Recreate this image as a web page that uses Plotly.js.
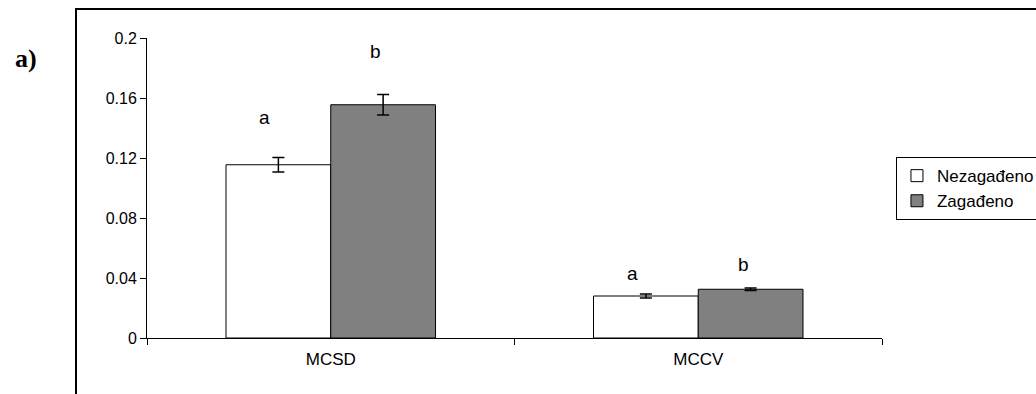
<!DOCTYPE html>
<html>
<head>
<meta charset="utf-8">
<script src="https://cdn.plot.ly/plotly-3.0.1.min.js"></script>
<style>
  html, body { margin: 0; padding: 0; background: #fff; }
  #chart { width: 1036px; height: 394px; }
</style>
</head>
<body>
<div id="chart"></div>
<script>
const categories = ["MCSD", "MCCV"];
const seriesNames = ["Nezagađeno", "Zagađeno"];
const nezagadjeno = [0.1155, 0.028];
const nezagadjenoErr = [0.0049, 0.0013];
const zagadjeno = [0.1555, 0.0325];
const zagadjenoErr = [0.0068, 0.0008];
const lettersNez = ["a", "a"];
const lettersZag = ["b", "b"];
const letterYNez = [0.147, 0.0427];
const letterYZag = [0.191, 0.049];
const yTicks = [0, 0.04, 0.08, 0.12, 0.16, 0.2];
const yTickText = ["0", "0.04", "0.08", "0.12", "0.16", "0.2"];

const font = "Arial, 'Liberation Sans', sans-serif";

const traces = [
  {
    type: "bar", name: seriesNames[0], x: categories, y: nezagadjeno,
    marker: { color: "#ffffff", line: { color: "#000000", width: 1 } },
    error_y: { type: "data", array: nezagadjenoErr, visible: true, color: "#000000", thickness: 1.5, width: 6 }
  },
  {
    type: "bar", name: seriesNames[1], x: categories, y: zagadjeno,
    marker: { color: "#808080", line: { color: "#000000", width: 1 } },
    error_y: { type: "data", array: zagadjenoErr, visible: true, color: "#000000", thickness: 1.5, width: 6 }
  }
];

const annotations = [];
categories.forEach((c, i) => {
  annotations.push({ x: c, y: letterYNez[i], xref: "x", yref: "y", text: lettersNez[i], showarrow: false, xshift: -66, font: { family: font, size: 19, color: "#000" } });
  annotations.push({ x: c, y: letterYZag[i], xref: "x", yref: "y", text: lettersZag[i], showarrow: false, xshift: 45, font: { family: font, size: 19, color: "#000" } });
});
annotations.push({ x: -0.164, y: 0.932, xref: "paper", yref: "paper", text: "<b>a)</b>", showarrow: false, xanchor: "center", yanchor: "middle", font: { family: "'Liberation Serif', 'Times New Roman', serif", size: 26, color: "#000" } });

const layout = {
  width: 1036, height: 394,
  margin: { l: 147, r: 154, t: 38, b: 56, autoexpand: false },
  paper_bgcolor: "#ffffff", plot_bgcolor: "#ffffff",
  barmode: "group", bargap: 0.43, bargroupgap: 0,
  showlegend: true,
  legend: {
    x: 1.019, y: 0.603, xanchor: "left", yanchor: "top",
    bordercolor: "#000000", borderwidth: 1, bgcolor: "#ffffff",
    font: { family: font, size: 17, color: "#000" },
    itemwidth: 30, tracegroupgap: 0
  },
  xaxis: {
    type: "category", showline: true, linecolor: "#000", linewidth: 1,
    ticks: "outside", tickson: "boundaries", ticklen: 6, tickcolor: "#000",
    ticklabelstandoff: 6,
    showgrid: false, zeroline: false, automargin: false,
    tickfont: { family: font, size: 17, color: "#000" }
  },
  yaxis: {
    range: [0, 0.2], tickvals: yTicks, ticktext: yTickText,
    showline: true, linecolor: "#000", linewidth: 1,
    ticks: "outside", ticklen: 6, tickcolor: "#000",
    showgrid: false, zeroline: false, automargin: false,
    tickfont: { family: font, size: 16, color: "#000" }
  },
  shapes: [
    { type: "rect", xref: "paper", yref: "paper", x0: -0.0966, x1: 1.25, y0: -0.25, y1: 1.0967, line: { color: "#000", width: 2 }, fillcolor: "rgba(0,0,0,0)" }
  ],
  annotations: annotations
};

Plotly.newPlot("chart", traces, layout, { displayModeBar: false, staticPlot: true });
</script>
</body>
</html>
